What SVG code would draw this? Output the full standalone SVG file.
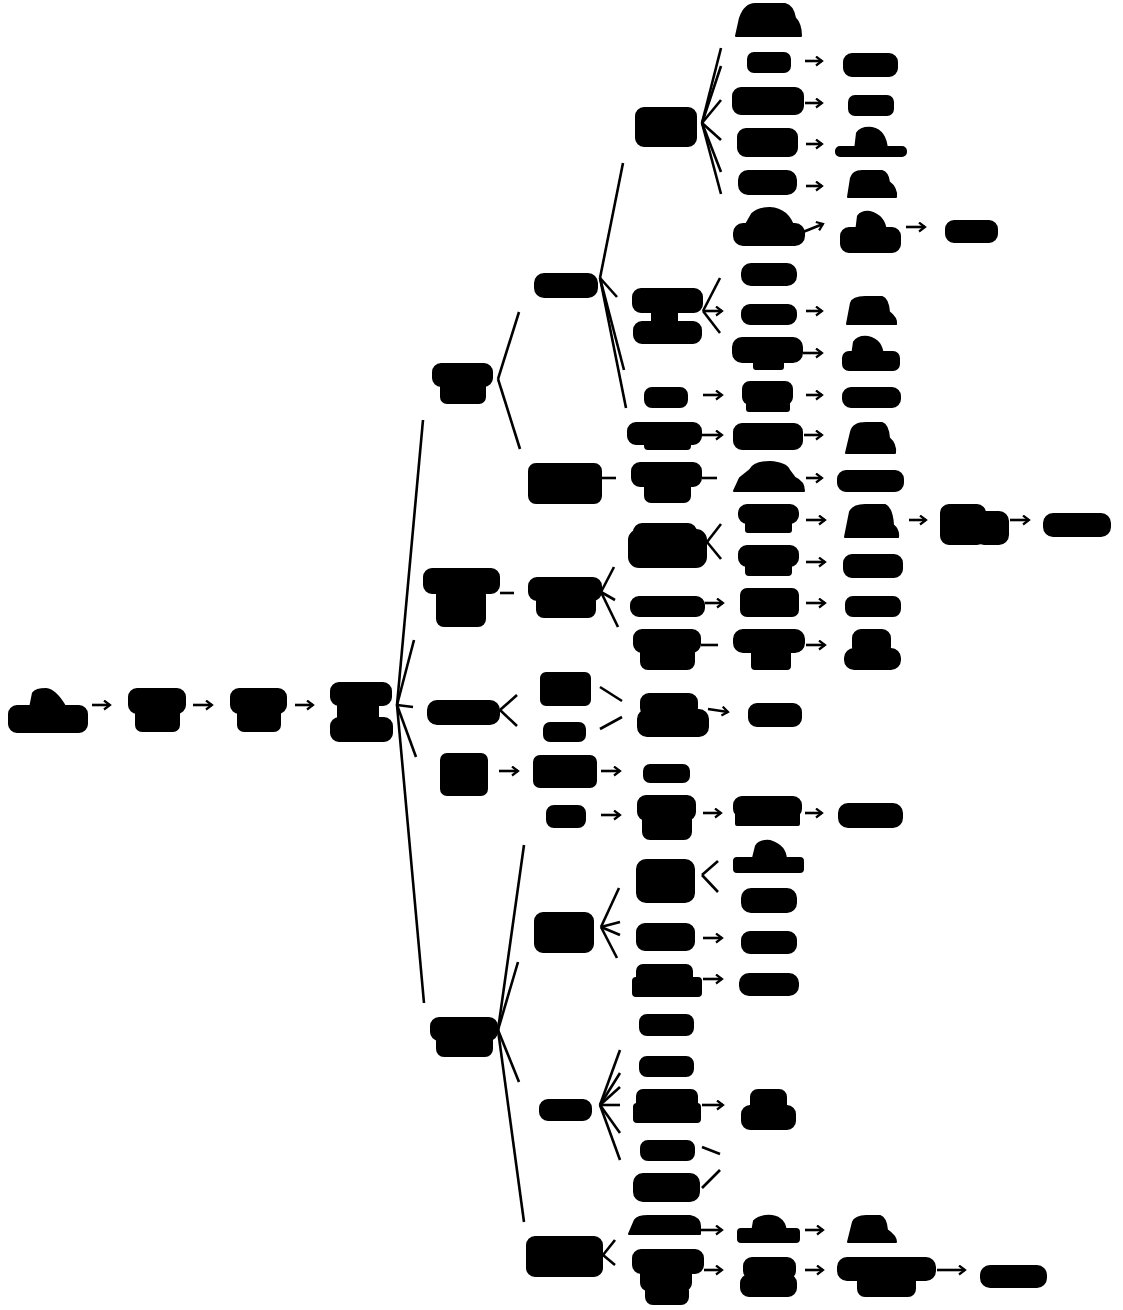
<svg xmlns="http://www.w3.org/2000/svg" width="1123" height="1310" viewBox="0 0 1123 1310">
<style>
rect,path.b{fill:#000;stroke:#000;stroke-width:2;stroke-linejoin:round}
.c line{stroke:#000;stroke-width:2.6;fill:none}
.c line.a{marker-end:url(#ah)}
</style>
<defs>
<marker id="ah" markerUnits="userSpaceOnUse" markerWidth="10" markerHeight="12" refX="7" refY="5" orient="auto">
<path d="M1,0.5 L7,5 L1,9.5" fill="none" stroke="#000" stroke-width="2.2"/>
</marker>
</defs>
<rect x="0" y="0" width="1123" height="1310" style="fill:#fff;stroke:none"/>
<g class="c" id="connectors">
<line class="a" x1="92" y1="705" x2="110" y2="705"/>
<line class="a" x1="193" y1="705" x2="212" y2="705"/>
<line class="a" x1="295" y1="705" x2="313" y2="705"/>
<line x1="397" y1="705" x2="423" y2="420"/>
<line x1="397" y1="705" x2="414" y2="640"/>
<line x1="397" y1="705" x2="413" y2="707"/>
<line x1="397" y1="705" x2="416" y2="757"/>
<line x1="397" y1="705" x2="424" y2="1003"/>
<line x1="498" y1="379" x2="519" y2="312"/>
<line x1="498" y1="379" x2="520" y2="449"/>
<line x1="600" y1="278" x2="623" y2="163"/>
<line x1="600" y1="278" x2="617" y2="297"/>
<line x1="600" y1="278" x2="624" y2="370"/>
<line x1="600" y1="278" x2="626" y2="408"/>
<line x1="702" y1="123" x2="721" y2="48"/>
<line x1="702" y1="123" x2="721" y2="66"/>
<line x1="702" y1="123" x2="721" y2="100"/>
<line x1="702" y1="123" x2="721" y2="140"/>
<line x1="702" y1="123" x2="721" y2="172"/>
<line x1="702" y1="123" x2="721" y2="194"/>
<line class="a" x1="805" y1="61" x2="822" y2="61"/>
<line class="a" x1="805" y1="103" x2="822" y2="103"/>
<line class="a" x1="806" y1="144" x2="822" y2="144"/>
<line class="a" x1="806" y1="186" x2="822" y2="186"/>
<line class="a" x1="803" y1="232" x2="823" y2="224"/>
<line class="a" x1="906" y1="227" x2="925" y2="227"/>
<line x1="703" y1="311" x2="720" y2="278"/>
<line class="a" x1="703" y1="311" x2="722" y2="311"/>
<line x1="703" y1="311" x2="720" y2="333"/>
<line class="a" x1="806" y1="311" x2="822" y2="311"/>
<line class="a" x1="803" y1="353" x2="822" y2="353"/>
<line class="a" x1="703" y1="395" x2="722" y2="395"/>
<line class="a" x1="806" y1="395" x2="822" y2="395"/>
<line class="a" x1="702" y1="435" x2="722" y2="435"/>
<line class="a" x1="804" y1="435" x2="822" y2="435"/>
<line x1="602" y1="478" x2="616" y2="478"/>
<line x1="702" y1="478" x2="717" y2="478"/>
<line class="a" x1="806" y1="478" x2="822" y2="478"/>
<line x1="707" y1="542" x2="721" y2="524"/>
<line x1="707" y1="542" x2="721" y2="559"/>
<line class="a" x1="806" y1="520" x2="825" y2="520"/>
<line class="a" x1="909" y1="520" x2="926" y2="520"/>
<line class="a" x1="1010" y1="520" x2="1029" y2="520"/>
<line class="a" x1="806" y1="562" x2="825" y2="562"/>
<line x1="500" y1="593" x2="514" y2="593"/>
<line x1="601" y1="592" x2="614" y2="567"/>
<line x1="601" y1="592" x2="615" y2="600"/>
<line x1="601" y1="592" x2="618" y2="627"/>
<line class="a" x1="705" y1="603" x2="723" y2="603"/>
<line class="a" x1="806" y1="603" x2="825" y2="603"/>
<line x1="701" y1="645" x2="718" y2="645"/>
<line class="a" x1="806" y1="645" x2="825" y2="645"/>
<line x1="500" y1="710" x2="517" y2="695"/>
<line x1="500" y1="710" x2="517" y2="726"/>
<line x1="600" y1="687" x2="622" y2="701"/>
<line x1="600" y1="729" x2="622" y2="717"/>
<line class="a" x1="708" y1="709" x2="728" y2="712"/>
<line class="a" x1="499" y1="771" x2="518" y2="771"/>
<line class="a" x1="601" y1="771" x2="620" y2="771"/>
<line class="a" x1="601" y1="815" x2="620" y2="815"/>
<line class="a" x1="703" y1="813" x2="721" y2="813"/>
<line class="a" x1="805" y1="813" x2="822" y2="813"/>
<line x1="498" y1="1030" x2="524" y2="845"/>
<line x1="498" y1="1030" x2="518" y2="962"/>
<line x1="498" y1="1030" x2="519" y2="1082"/>
<line x1="498" y1="1030" x2="524" y2="1222"/>
<line x1="601" y1="927" x2="619" y2="888"/>
<line x1="601" y1="927" x2="620" y2="922"/>
<line x1="601" y1="927" x2="620" y2="935"/>
<line x1="601" y1="927" x2="617" y2="958"/>
<line x1="702" y1="875" x2="718" y2="861"/>
<line x1="702" y1="875" x2="718" y2="892"/>
<line class="a" x1="703" y1="938" x2="722" y2="938"/>
<line class="a" x1="703" y1="979" x2="722" y2="979"/>
<line x1="600" y1="1105" x2="620" y2="1050"/>
<line x1="600" y1="1105" x2="620" y2="1073"/>
<line x1="600" y1="1105" x2="620" y2="1087"/>
<line x1="600" y1="1105" x2="620" y2="1105"/>
<line x1="600" y1="1105" x2="620" y2="1133"/>
<line x1="600" y1="1105" x2="620" y2="1160"/>
<line class="a" x1="702" y1="1105" x2="723" y2="1105"/>
<line x1="702" y1="1147" x2="720" y2="1154"/>
<line x1="702" y1="1188" x2="720" y2="1170"/>
<line x1="603" y1="1255" x2="615" y2="1240"/>
<line x1="603" y1="1255" x2="615" y2="1265"/>
<line class="a" x1="701" y1="1230" x2="722" y2="1230"/>
<line class="a" x1="805" y1="1230" x2="823" y2="1230"/>
<line class="a" x1="704" y1="1270" x2="722" y2="1270"/>
<line class="a" x1="805" y1="1270" x2="823" y2="1270"/>
<line class="a" x1="937" y1="1270" x2="965" y2="1270"/>
</g>
<g id="nA"><rect x="9" y="706" width="78" height="26" rx="8"/><path class="b" d="M30,708 L33,693 Q36,689 46,689 Q56,690 66,708 Z"/></g>
<g id="nB"><rect x="129" y="689" width="56" height="24" rx="8"/><rect x="136" y="705" width="43" height="26" rx="6"/></g>
<g id="nC"><rect x="231" y="689" width="55" height="24" rx="8"/><rect x="238" y="705" width="42" height="26" rx="6"/></g>
<g id="nD"><rect x="331" y="683" width="60" height="22" rx="8"/><rect x="338" y="700" width="40" height="22" rx="3"/><rect x="331" y="718" width="61" height="23" rx="8"/></g>
<g id="nE1"><rect x="433" y="364" width="59" height="22" rx="8"/><rect x="441" y="380" width="44" height="23" rx="6"/></g>
<g id="nE2"><rect x="424" y="569" width="75" height="24" rx="8"/><rect x="437" y="588" width="48" height="38" rx="7"/></g>
<g id="nE3"><rect x="428" y="701" width="71" height="23" rx="9"/></g>
<g id="nE4"><rect x="441" y="754" width="46" height="41" rx="6"/></g>
<g id="nE5"><rect x="431" y="1018" width="66" height="22" rx="8"/><rect x="437" y="1034" width="55" height="22" rx="7"/></g>
<g id="nF0"><rect x="535" y="274" width="62" height="23" rx="9"/></g>
<g id="nF1"><rect x="529" y="464" width="72" height="39" rx="7"/></g>
<g id="nF2"><rect x="529" y="578" width="72" height="22" rx="8"/><rect x="537" y="594" width="58" height="23" rx="7"/></g>
<g id="nF3a"><rect x="541" y="673" width="49" height="32" rx="5"/></g>
<g id="nF3b"><rect x="544" y="723" width="41" height="18" rx="6"/></g>
<g id="nF4"><rect x="534" y="756" width="62" height="31" rx="6"/></g>
<g id="nF4b"><rect x="547" y="806" width="38" height="21" rx="7"/></g>
<g id="nF5a"><rect x="535" y="913" width="58" height="39" rx="8"/></g>
<g id="nF5b"><rect x="540" y="1100" width="51" height="20" rx="8"/></g>
<g id="nF5c"><rect x="527" y="1237" width="75" height="39" rx="8"/></g>
<g id="nG0"><rect x="636" y="108" width="60" height="38" rx="8"/></g>
<g id="nG1"><rect x="633" y="289" width="69" height="23" rx="8"/><rect x="652" y="308" width="25" height="18" rx="2"/><rect x="634" y="322" width="67" height="21" rx="8"/></g>
<g id="nG1b"><rect x="645" y="388" width="42" height="19" rx="7"/></g>
<g id="nG1c"><rect x="628" y="423" width="73" height="21" rx="8"/><rect x="645" y="438" width="45" height="11" rx="3"/></g>
<g id="nG2"><rect x="632" y="463" width="69" height="23" rx="8"/><rect x="645" y="480" width="45" height="22" rx="6"/></g>
<g id="nG2a"><rect x="629" y="530" width="77" height="37" rx="10"/><rect x="634" y="524" width="62" height="20" rx="8"/></g>
<g id="nG2b"><rect x="631" y="597" width="73" height="19" rx="8"/></g>
<g id="nG2c"><rect x="634" y="630" width="66" height="22" rx="8"/><rect x="641" y="646" width="53" height="23" rx="7"/></g>
<g id="nG3"><rect x="641" y="694" width="56" height="22" rx="8"/><rect x="638" y="710" width="70" height="26" rx="9"/></g>
<g id="nG4"><rect x="644" y="765" width="45" height="17" rx="6"/></g>
<g id="nG4b"><rect x="638" y="796" width="57" height="24" rx="8"/><rect x="643" y="812" width="48" height="27" rx="7"/></g>
<g id="nG5a"><rect x="637" y="860" width="57" height="42" rx="9"/></g>
<g id="nG5b"><rect x="637" y="924" width="57" height="26" rx="8"/></g>
<g id="nG5c"><rect x="637" y="965" width="55" height="20" rx="6"/><rect x="633" y="978" width="68" height="18" rx="3"/></g>
<g id="nG5d"><rect x="640" y="1015" width="53" height="20" rx="7"/></g>
<g id="nG5e"><rect x="640" y="1057" width="53" height="19" rx="7"/></g>
<g id="nG5f"><rect x="637" y="1090" width="60" height="24" rx="6"/><rect x="634" y="1104" width="66" height="18" rx="3"/></g>
<g id="nG5g"><rect x="641" y="1141" width="53" height="19" rx="7"/></g>
<g id="nG5h"><rect x="634" y="1174" width="65" height="27" rx="9"/></g>
<g id="nG5i"><path class="b" d="M629,1234 L635,1220 Q638,1216 648,1216 L690,1216 Q700,1218 700,1226 L700,1234 Z"/></g>
<g id="nG5j"><rect x="633" y="1250" width="70" height="23" rx="8"/><rect x="641" y="1266" width="50" height="24" rx="7"/><rect x="646" y="1284" width="42" height="20" rx="7"/></g>
<g id="nH0a"><path class="b" d="M736,36 L740,18 Q745,4 755,4 L785,4 Q793,6 795,18 Q801,24 801,36 Z"/></g>
<g id="nH0b"><rect x="748" y="53" width="42" height="19" rx="6"/></g>
<g id="nH0c"><rect x="733" y="88" width="70" height="26" rx="8"/></g>
<g id="nH0d"><rect x="738" y="129" width="59" height="27" rx="8"/></g>
<g id="nH0e"><rect x="739" y="171" width="57" height="23" rx="9"/></g>
<g id="nH0f"><rect x="734" y="224" width="70" height="21" rx="9"/><path class="b" d="M744,228 L752,214 Q758,208 770,208 Q788,209 794,228 Z"/></g>
<g id="nH1a"><rect x="742" y="264" width="54" height="21" rx="9"/></g>
<g id="nH1b"><rect x="742" y="305" width="54" height="19" rx="8"/></g>
<g id="nH1c"><rect x="733" y="338" width="69" height="24" rx="9"/><rect x="754" y="356" width="29" height="13" rx="2"/></g>
<g id="nH1d"><rect x="743" y="382" width="49" height="22" rx="7"/><rect x="747" y="398" width="42" height="13" rx="2"/></g>
<g id="nH1e"><rect x="734" y="424" width="68" height="25" rx="8"/></g>
<g id="nH2"><path class="b" d="M734,491 L740,478 L750,470 Q754,462 770,462 Q786,463 789,470 L795,478 Q804,482 804,491 Z"/></g>
<g id="nH2a"><rect x="739" y="505" width="59" height="18" rx="8"/><rect x="746" y="515" width="45" height="17" rx="2"/></g>
<g id="nH2b"><rect x="739" y="546" width="59" height="20" rx="8"/><rect x="746" y="558" width="45" height="17" rx="3"/></g>
<g id="nH2c"><rect x="741" y="589" width="57" height="27" rx="6"/></g>
<g id="nH2d"><rect x="734" y="630" width="70" height="22" rx="9"/><rect x="752" y="645" width="38" height="24" rx="3"/></g>
<g id="nH3"><rect x="749" y="704" width="52" height="22" rx="8"/></g>
<g id="nH4b"><rect x="734" y="797" width="67" height="20" rx="8"/><rect x="736" y="812" width="63" height="13" rx="1"/></g>
<g id="nH5a"><rect x="734" y="858" width="69" height="14" rx="3"/><path class="b" d="M752,862 L756,846 Q760,840 770,841 Q786,846 786,860 Z"/></g>
<g id="nH5b"><rect x="742" y="889" width="54" height="23" rx="9"/></g>
<g id="nH5c"><rect x="742" y="932" width="54" height="21" rx="8"/></g>
<g id="nH5d"><rect x="740" y="974" width="58" height="21" rx="9"/></g>
<g id="nH5f"><rect x="751" y="1090" width="35" height="22" rx="7"/><rect x="742" y="1106" width="53" height="23" rx="8"/></g>
<g id="nH5i"><rect x="738" y="1229" width="61" height="13" rx="3"/><path class="b" d="M752,1232 L754,1221 Q760,1215 772,1216 Q785,1218 786,1232 Z"/></g>
<g id="nH5j"><rect x="744" y="1258" width="51" height="21" rx="8"/><rect x="741" y="1275" width="55" height="21" rx="8"/></g>
<g id="nI0b"><rect x="844" y="54" width="53" height="22" rx="8"/></g>
<g id="nI0c"><rect x="849" y="96" width="44" height="19" rx="6"/></g>
<g id="nI0d"><rect x="836" y="147" width="70" height="9" rx="4"/><path class="b" d="M855,150 L857,133 Q861,127 872,128 Q886,131 887,150 Z"/></g>
<g id="nI0e"><path class="b" d="M848,197 L851,178 Q853,171 862,171 L882,171 Q888,173 889,182 Q897,188 896,197 Z"/></g>
<g id="nI0f"><rect x="841" y="228" width="59" height="24" rx="8"/><path class="b" d="M856,232 L858,216 Q862,211 870,212 Q885,216 886,232 Z"/></g>
<g id="nI1b"><path class="b" d="M847,324 L851,303 Q853,297 865,297 L882,297 Q888,299 889,312 Q897,318 896,324 Z"/></g>
<g id="nI1c"><rect x="843" y="352" width="56" height="18" rx="6"/><path class="b" d="M852,356 L854,342 Q858,336 868,337 Q882,340 883,356 Z"/></g>
<g id="nI1d"><rect x="843" y="388" width="57" height="19" rx="8"/></g>
<g id="nI1e"><path class="b" d="M846,453 L851,432 Q853,423 866,423 L882,423 Q888,425 889,438 Q896,444 895,453 Z"/></g>
<g id="nI2"><rect x="838" y="471" width="65" height="20" rx="8"/></g>
<g id="nI2a"><path class="b" d="M845,537 L850,512 Q853,505 865,505 L885,505 Q892,508 893,525 Q899,530 898,537 Z"/></g>
<g id="nI2b"><rect x="844" y="555" width="58" height="22" rx="8"/></g>
<g id="nI2c"><rect x="846" y="597" width="54" height="19" rx="7"/></g>
<g id="nI2d"><rect x="853" y="630" width="37" height="25" rx="8"/><rect x="845" y="649" width="55" height="20" rx="9"/></g>
<g id="nI4b"><rect x="839" y="804" width="63" height="23" rx="9"/></g>
<g id="nI5i"><path class="b" d="M848,1242 L853,1222 Q856,1216 866,1216 L880,1216 Q886,1218 887,1230 Q896,1236 896,1242 Z"/></g>
<g id="nI5j"><rect x="838" y="1258" width="97" height="22" rx="9"/><rect x="858" y="1274" width="57" height="22" rx="7"/></g>
<g id="nJ0f"><rect x="946" y="221" width="51" height="21" rx="8"/></g>
<g id="nJ2a"><rect x="941" y="505" width="44" height="39" rx="8"/><rect x="975" y="512" width="33" height="32" rx="9"/></g>
<g id="nJ5j"><rect x="981" y="1266" width="65" height="21" rx="9"/></g>
<g id="nK2a"><rect x="1044" y="514" width="66" height="22" rx="9"/></g>
</svg>
